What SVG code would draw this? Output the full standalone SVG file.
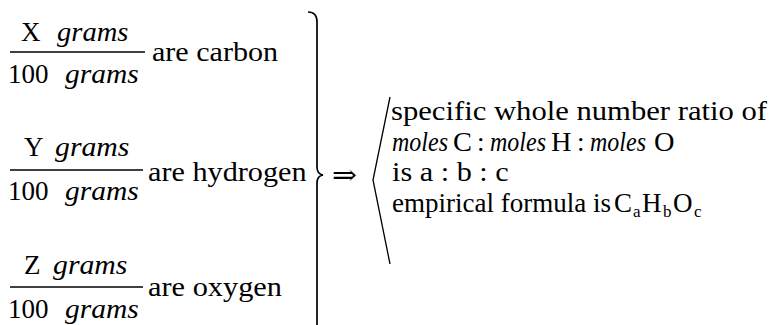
<svg xmlns="http://www.w3.org/2000/svg" width="776" height="325" viewBox="0 0 776 325">
<rect width="776" height="325" fill="#fff"/>
<g id="carbon">
<text font-family="Liberation Serif" font-size="27" x="21" y="41">X</text>
<text font-family="Tinos" font-size="24" font-style="italic" transform="translate(57 41) scale(1.19 1.125)">grams</text>
<line stroke="#000" stroke-width="1.6" x1="10" y1="52" x2="145" y2="52"/>
<text font-family="Liberation Serif" font-size="27" x="8" y="83">100</text>
<text font-family="Tinos" font-size="24" font-style="italic" transform="translate(65 83) scale(1.23 1.125)">grams</text>
<text font-family="Tinos" font-size="24" transform="translate(152 61) scale(1.254 1.125)">are carbon</text>
</g>
<g id="hydrogen">
<text font-family="Liberation Serif" font-size="27" x="24" y="156">Y</text>
<text font-family="Tinos" font-size="24" font-style="italic" transform="translate(55 156) scale(1.24 1.125)">grams</text>
<line stroke="#000" stroke-width="1.6" x1="10" y1="170" x2="143" y2="170"/>
<text font-family="Liberation Serif" font-size="27" x="8" y="200">100</text>
<text font-family="Tinos" font-size="24" font-style="italic" transform="translate(65 200) scale(1.23 1.125)">grams</text>
<text font-family="Tinos" font-size="24" transform="translate(148 181) scale(1.26 1.125)">are hydrogen</text>
</g>
<g id="oxygen">
<text font-family="Liberation Serif" font-size="27" x="24" y="274">Z</text>
<text font-family="Tinos" font-size="24" font-style="italic" transform="translate(53 274) scale(1.24 1.125)">grams</text>
<line stroke="#000" stroke-width="1.6" x1="10" y1="287" x2="143" y2="287"/>
<text font-family="Liberation Serif" font-size="27" x="8" y="318">100</text>
<text font-family="Tinos" font-size="24" font-style="italic" transform="translate(65 318) scale(1.23 1.125)">grams</text>
<text font-family="Tinos" font-size="24" transform="translate(148 296) scale(1.265 1.125)">are oxygen</text>
</g>
<g id="connectors">
<path fill="none" stroke="#000" stroke-width="1.7" d="M308 12 Q317 12 317 22 L317 167 Q317 174 323 175 Q317 176 317 183 L317 330"/>
<text font-family="DejaVu Serif" font-size="27" transform="translate(332 184) scale(1.1 1)">⇒</text>
<path fill="none" stroke="#000" stroke-width="1.3" d="M390 97 L373 180 L390 264"/>
</g>
<g id="result">
<text font-family="serif" font-size="24" transform="translate(391 120) scale(1.277 1.125)">specific whole number ratio of</text>
<text font-family="Tinos" font-size="24" font-style="italic" transform="translate(392 151) scale(1.0 1.125)">moles</text>
<text font-family="Liberation Serif" font-size="27" transform="translate(453 151) scale(1.05 1)">C</text>
<text font-family="Liberation Serif" font-size="27" x="477" y="151">:</text>
<text font-family="Tinos" font-size="24" font-style="italic" transform="translate(490 151) scale(1.0 1.125)">moles</text>
<text font-family="Liberation Serif" font-size="27" transform="translate(551 151) scale(1.05 1)">H</text>
<text font-family="Liberation Serif" font-size="27" x="577" y="151">:</text>
<text font-family="Tinos" font-size="24" font-style="italic" transform="translate(590 151) scale(1.0 1.125)">moles</text>
<text font-family="Liberation Serif" font-size="27" transform="translate(654 151) scale(1.05 1)">O</text>
<text font-family="serif" font-size="24" transform="translate(392 181) scale(1.26 1.125)">is a : b : c</text>
<text font-family="serif" font-size="24" transform="translate(392 212) scale(1.125 1.125)">empirical formula is</text>
<text font-family="Liberation Serif" font-size="27" x="614" y="212">C</text>
<text font-family="Liberation Serif" font-size="17" x="633" y="217">a</text>
<text font-family="Liberation Serif" font-size="27" x="642" y="212">H</text>
<text font-family="Liberation Serif" font-size="17" x="663" y="217">b</text>
<text font-family="Liberation Serif" font-size="27" x="673" y="212">O</text>
<text font-family="Liberation Serif" font-size="17" x="694" y="217">c</text>
</g>
</svg>
